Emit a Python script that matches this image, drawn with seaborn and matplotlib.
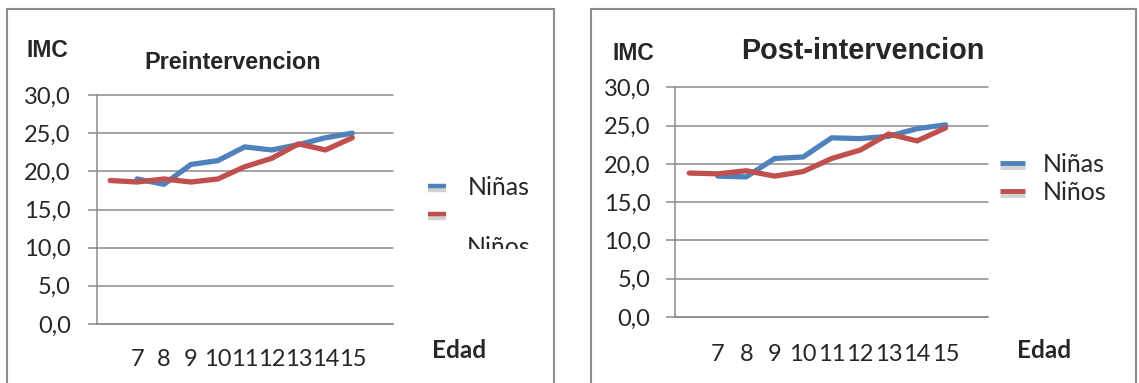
import numpy as np
import pandas as pd
import matplotlib
matplotlib.use("Agg")
import matplotlib.pyplot as plt
import matplotlib.patheffects as pe
from matplotlib.lines import Line2D
from matplotlib.patches import Rectangle
from matplotlib.transforms import Bbox, TransformedBbox
import seaborn as sns

# ── Data ──────────────────────────────────────────────────────────────────────
EDAD_LABELS = ["", "7", "8", "9", "10", "11", "12", "13", "14", "15", ""]
NINOS_POS = [0, 1, 2, 3, 4, 5, 6, 7, 8, 9]
NINAS_POS = [1, 2, 3, 4, 5, 6, 7, 8, 9]

NINOS_PRE = [18.8, 18.6, 19.0, 18.6, 19.0, 20.6, 21.7, 23.6, 22.8, 24.4]
NINAS_PRE = [19.0, 18.3, 20.9, 21.4, 23.2, 22.8, 23.5, 24.4, 25.0]

NINOS_POST = [18.8, 18.7, 19.1, 18.4, 19.0, 20.7, 21.8, 23.9, 23.0, 24.7]
NINAS_POST = [18.4, 18.3, 20.7, 20.9, 23.4, 23.3, 23.6, 24.6, 25.1]

Y_TICKS = [0, 5, 10, 15, 20, 25, 30]

COLORS = {"Niñas": "#4F81BD", "Niños": "#C0504D"}
GRID = "#8C8C8C"
W, H = 1139, 383


def long_df(ninas, ninos):
    a = pd.DataFrame({"pos": NINAS_POS, "imc": ninas, "sexo": "Niñas"})
    b = pd.DataFrame({"pos": NINOS_POS, "imc": ninos, "sexo": "Niños"})
    return pd.concat([a, b], ignore_index=True)


def style_axes(ax, xlabel_pad, ylabel_pad):
    ax.set_xlim(-0.5, len(EDAD_LABELS) - 0.5)
    ax.set_ylim(0, 30)
    ax.set_yticks(Y_TICKS)
    ax.set_yticklabels([f"{v:.1f}".replace(".", ",") for v in Y_TICKS],
                       family="Lato", fontsize=17)
    ax.set_xticks(range(len(EDAD_LABELS)))
    ax.set_xticklabels(EDAD_LABELS, family="Lato", fontsize=17)
    ax.set_xticks(np.arange(-0.5, len(EDAD_LABELS)), minor=True)
    ax.tick_params(axis="x", which="major", length=0, pad=xlabel_pad)
    ax.tick_params(axis="x", which="minor", length=6, width=1.1,
                   color=GRID, direction="out")
    ax.tick_params(axis="y", length=6.3, width=1.1, color=GRID,
                   direction="out", pad=ylabel_pad, left=True)
    ax.grid(axis="y", color=GRID, lw=1.1)
    ax.grid(axis="x", visible=False)
    for gl in ax.get_ygridlines():
        gl.set_clip_on(False)
    for s in ["top", "right"]:
        ax.spines[s].set_visible(False)
    for s in ["left", "bottom"]:
        ax.spines[s].set_color(GRID)
        ax.spines[s].set_linewidth(1.1)
    ax.set_xlabel("")
    ax.set_ylabel("")


def draw_lines(ax, df):
    sns.lineplot(data=df, x="pos", y="imc", hue="sexo", palette=COLORS,
                 lw=3.8, legend=False, ax=ax, solid_capstyle="round",
                 solid_joinstyle="round")


def handles(lw):
    shadow = [pe.SimpleLineShadow(offset=(0, -2.5), shadow_color="gray", alpha=0.35),
              pe.Normal()]
    return [Line2D([], [], color=COLORS[k], lw=lw, solid_capstyle="butt",
                   path_effects=shadow) for k in ["Niñas", "Niños"]]


sns.set_theme(style="white")
plt.rcParams["font.family"] = ["Liberation Sans", "DejaVu Sans"]

fig = plt.figure(figsize=(W / 100, H / 100), dpi=100)

ax1 = fig.add_axes([96.7 / W, 1 - 324 / H, 296 / W, 229 / H])
ax2 = fig.add_axes([675 / W, 1 - 317 / H, 313.3 / W, 229.7 / H])

draw_lines(ax1, long_df(NINAS_PRE, NINOS_PRE))
draw_lines(ax2, long_df(NINAS_POST, NINOS_POST))
style_axes(ax1, xlabel_pad=18, ylabel_pad=12.3)
style_axes(ax2, xlabel_pad=19.5, ylabel_pad=11.5)

# panel borders (chart areas)
for x0, x1 in [(6.7, 554), (591, 1136)]:
    fig.add_artist(Rectangle((x0 / W, -0.1), (x1 - x0) / W, 1.1 - 9.3 / H,
                             transform=fig.transFigure, fill=False,
                             ec="#8C8C8C", lw=1.5))

# titles and axis captions
fig.text(233 / W, 1 - 69.3 / H, "Preintervencion", ha="center", va="baseline",
         fontsize=16.8, fontweight="bold")
fig.text(862.5 / W, 1 - 59.3 / H, "Post-intervencion", ha="center", va="baseline",
         fontsize=20.8, fontweight="bold")
fig.text(47 / W, 1 - 57 / H, "IMC", ha="center", va="baseline",
         fontsize=16.5, fontweight="bold")
fig.text(633 / W, 1 - 60 / H, "IMC", ha="center", va="baseline",
         fontsize=16.5, fontweight="bold")
for x in [432, 1017]:
    fig.text(x / W, 1 - 358 / H, "Edad", ha="left", va="baseline",
             family="Lato", fontsize=17.5, fontweight="bold")

# legends
leg2 = ax2.legend(handles(3.5), ["Niñas", "Niños"], loc="upper left",
                  bbox_to_anchor=(1000 / W, 1 - 153 / H),
                  bbox_transform=fig.transFigure, frameon=False,
                  borderpad=0, borderaxespad=0, handlelength=1.0,
                  handletextpad=0.7, labelspacing=0.2,
                  prop={"family": "Lato", "size": 18})

leg1 = ax1.legend(handles(3.2), ["Niñas", " "], loc="upper left",
                  bbox_to_anchor=(428 / W, 1 - 176 / H),
                  bbox_transform=fig.transFigure, frameon=False,
                  borderpad=0, borderaxespad=0, handlelength=0.72,
                  handletextpad=0.85, labelspacing=0.2,
                  prop={"family": "Lato", "size": 18})

# wrapped second legend label, cut off by the legend box
t = fig.text(467 / W, 1 - 255 / H, "Niños", ha="left", va="baseline",
             family="Lato", fontsize=18)
t.set_clip_box(TransformedBbox(Bbox([[440 / W, 1 - 249 / H], [530 / W, 1 - 220 / H]]),
                               fig.transFigure))
t.set_clip_on(True)

fig.savefig("out.png", dpi=100)
